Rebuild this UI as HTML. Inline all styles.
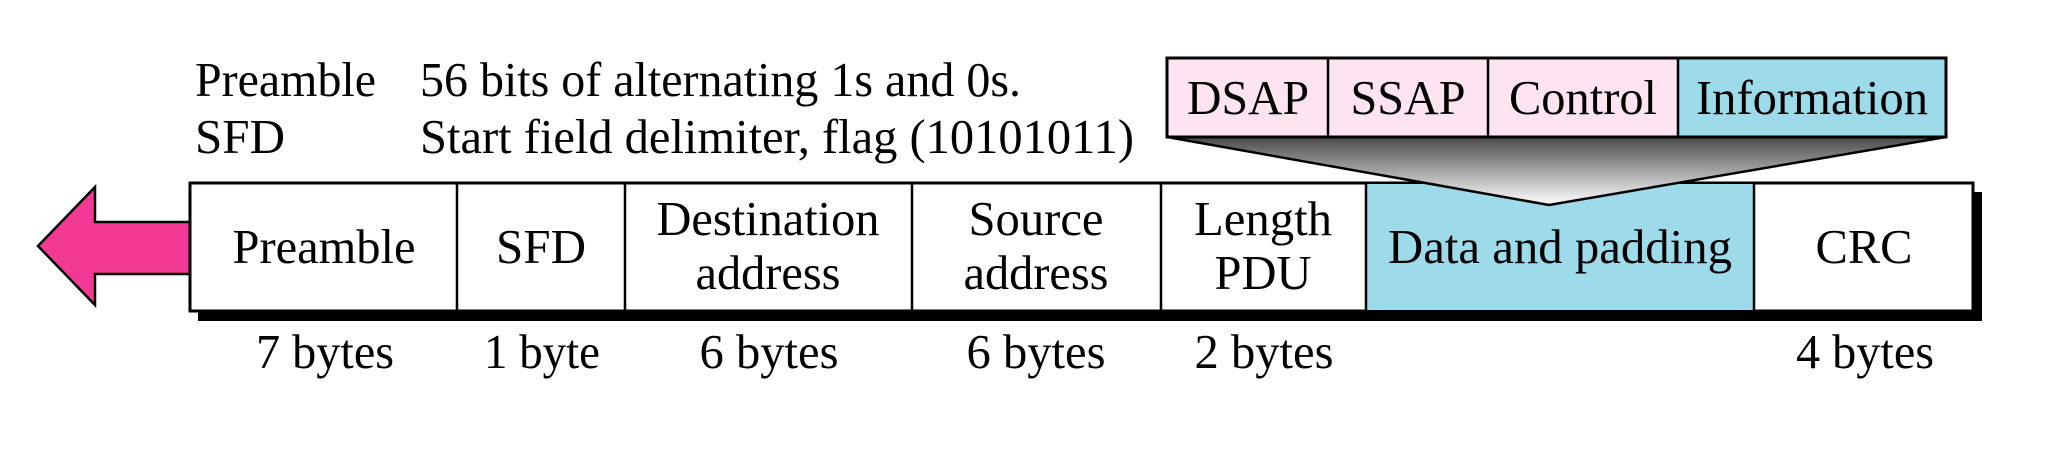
<!DOCTYPE html>
<html><head><meta charset="utf-8"><style>html,body{margin:0;padding:0;background:#fff}svg{display:block}</style></head>
<body>
<svg width="2055" height="470" viewBox="0 0 2055 470" xmlns="http://www.w3.org/2000/svg" font-family="'Liberation Serif', serif" font-size="49" fill="#000">
<defs>
<linearGradient id="g" x1="0" y1="0" x2="0" y2="1">
<stop offset="0" stop-color="#4a4a4a"/><stop offset="1" stop-color="#ffffff"/>
</linearGradient>
</defs>
<text x="195" y="96" textLength="181" lengthAdjust="spacingAndGlyphs">Preamble</text>
<text x="420" y="96" textLength="601" lengthAdjust="spacingAndGlyphs">56 bits of alternating 1s and 0s.</text>
<text x="195" y="153" textLength="90" lengthAdjust="spacingAndGlyphs">SFD</text>
<text x="420" y="153" textLength="714" lengthAdjust="spacingAndGlyphs">Start field delimiter, flag (10101011)</text>
<polygon points="190,222 95,222 95,187 38,246 95,305 95,274 190,274" fill="#f23a94" stroke="#000" stroke-width="2.5"/>
<rect x="198" y="192" width="1784" height="129" fill="#000"/>
<rect x="190" y="183" width="1783" height="128" fill="#fff" stroke="#000" stroke-width="3"/>
<rect x="1366" y="184" width="388" height="126" fill="#9ddbea"/>
<g stroke="#000" stroke-width="2.5">
<line x1="457" y1="183" x2="457" y2="311"/>
<line x1="625" y1="183" x2="625" y2="311"/>
<line x1="912" y1="183" x2="912" y2="311"/>
<line x1="1161" y1="183" x2="1161" y2="311"/>
<line x1="1366" y1="183" x2="1366" y2="311"/>
<line x1="1754" y1="183" x2="1754" y2="311"/>
</g>
<polygon points="1167,137 1946,137 1549,205" fill="url(#g)" stroke="#000" stroke-width="2.5"/>
<rect x="1167" y="58" width="511" height="79" fill="#fde4f0"/>
<rect x="1678" y="58" width="268" height="79" fill="#9ddbea"/>
<rect x="1167" y="58" width="779" height="79" fill="none" stroke="#000" stroke-width="3"/>
<g stroke="#000" stroke-width="2.5">
<line x1="1328" y1="58" x2="1328" y2="137"/>
<line x1="1488" y1="58" x2="1488" y2="137"/>
<line x1="1678" y1="58" x2="1678" y2="137"/>
</g>
<g text-anchor="middle">
<text x="1248" y="114" textLength="122" lengthAdjust="spacingAndGlyphs">DSAP</text>
<text x="1408" y="114" textLength="115" lengthAdjust="spacingAndGlyphs">SSAP</text>
<text x="1583" y="114" textLength="148" lengthAdjust="spacingAndGlyphs">Control</text>
<text x="1812" y="114" textLength="232" lengthAdjust="spacingAndGlyphs">Information</text>

<text x="324" y="263" textLength="183" lengthAdjust="spacingAndGlyphs">Preamble</text>
<text x="541" y="263" textLength="90" lengthAdjust="spacingAndGlyphs">SFD</text>
<text x="768" y="235" textLength="223" lengthAdjust="spacingAndGlyphs">Destination</text>
<text x="768" y="289" textLength="145" lengthAdjust="spacingAndGlyphs">address</text>
<text x="1036" y="235" textLength="135" lengthAdjust="spacingAndGlyphs">Source</text>
<text x="1036" y="289" textLength="145" lengthAdjust="spacingAndGlyphs">address</text>
<text x="1263" y="235" textLength="138" lengthAdjust="spacingAndGlyphs">Length</text>
<text x="1263" y="289" textLength="97" lengthAdjust="spacingAndGlyphs">PDU</text>
<text x="1560" y="263" textLength="344" lengthAdjust="spacingAndGlyphs">Data and padding</text>
<text x="1864" y="263" textLength="97" lengthAdjust="spacingAndGlyphs">CRC</text>

<text x="325" y="368" textLength="138" lengthAdjust="spacingAndGlyphs">7 bytes</text>
<text x="542" y="368" textLength="116" lengthAdjust="spacingAndGlyphs">1 byte</text>
<text x="769" y="368" textLength="139" lengthAdjust="spacingAndGlyphs">6 bytes</text>
<text x="1036" y="368" textLength="139" lengthAdjust="spacingAndGlyphs">6 bytes</text>
<text x="1264" y="368" textLength="139" lengthAdjust="spacingAndGlyphs">2 bytes</text>
<text x="1865" y="368" textLength="138" lengthAdjust="spacingAndGlyphs">4 bytes</text>
</g>
</svg>
</body></html>
